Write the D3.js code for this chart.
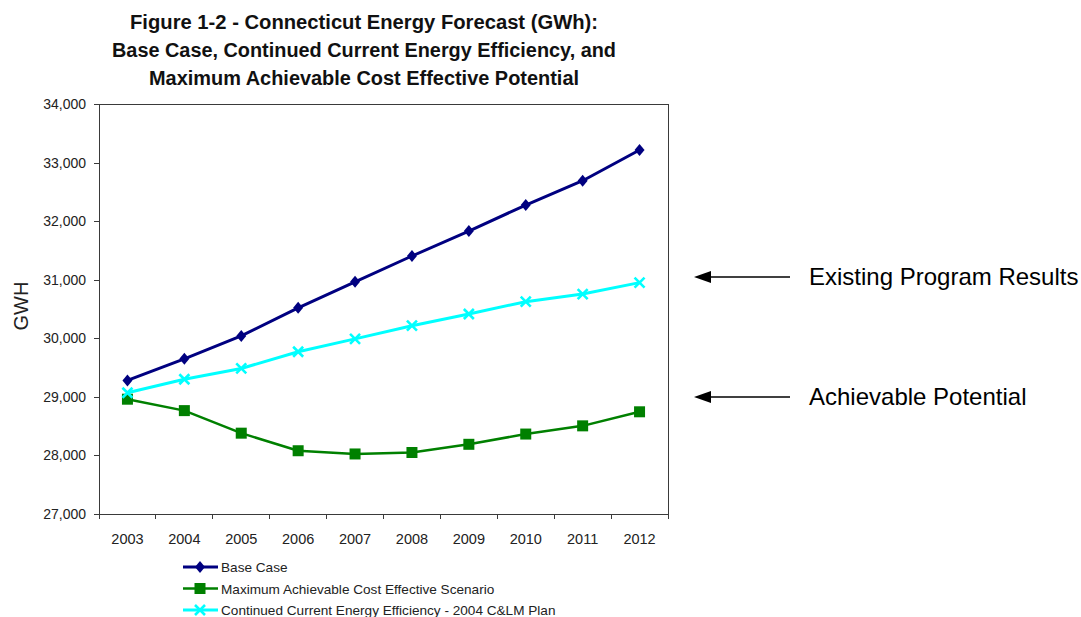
<!DOCTYPE html>
<html>
<head>
<meta charset="utf-8">
<script src="https://cdn.jsdelivr.net/npm/d3@7"></script>
<style>
  html, body { margin: 0; padding: 0; background: #fff; }
  svg { display: block; font-family: "Liberation Sans", Arial, sans-serif; }
</style>
</head>
<body>
<svg id="chart" width="1081" height="617"></svg>
<script>
// Forecast years and the three GWh series
const years = ["2003","2004","2005","2006","2007","2008","2009","2010","2011","2012"];
const baseCase  = [29280, 29650, 30040, 30520, 30965, 31405, 31830, 32275, 32690, 33215];
const maxAchiev = [28960, 28765, 28380, 28080, 28025, 28050, 28190, 28365, 28505, 28745];
const contCurr  = [29070, 29300, 29485, 29770, 29990, 30215, 30415, 30625, 30755, 30950];
const yTicks = [27000, 28000, 29000, 30000, 31000, 32000, 33000, 34000];

const titleLines = [
  "Figure 1-2 - Connecticut Energy Forecast (GWh):",
  "Base Case, Continued Current Energy Efficiency, and",
  "Maximum Achievable Cost Effective Potential"
];
const legendLabels = [
  "Base Case",
  "Maximum Achievable Cost Effective Scenario",
  "Continued Current Energy Efficiency - 2004 C&LM Plan"
];
const notes = ["Existing Program Results", "Achievable Potential"];

const svg = d3.select("#chart");
const plot = { left: 99, right: 668, top: 104, bottom: 514 };

const x = d3.scaleBand().domain(years).range([plot.left, plot.right]);
const y = d3.scaleLinear().domain([27000, 34000]).range([plot.bottom, plot.top]);
const cx = d => x(d) + x.bandwidth() / 2;

// Title (condensed bold, three centred lines)
const titleWidths = [468, 504, 430];
svg.append("g").selectAll("text").data(titleLines).join("text")
  .attr("x", 364)
  .attr("y", (d, i) => 29 + i * 28)
  .attr("text-anchor", "middle")
  .attr("font-family", "'Liberation Sans Narrow','Arial Narrow','Liberation Sans',Arial,sans-serif")
  .attr("font-weight", "bold")
  .attr("font-size", 19.5)
  .attr("fill", "#111")
  .attr("textLength", (d, i) => titleWidths[i])
  .attr("lengthAdjust", "spacingAndGlyphs")
  .text(d => d);

// Plot frame
const axisColor = "#3a3a3a";
svg.append("rect")
  .attr("x", plot.left).attr("y", plot.top)
  .attr("width", plot.right - plot.left).attr("height", plot.bottom - plot.top)
  .attr("fill", "none").attr("stroke", axisColor).attr("stroke-width", 1)
  .attr("shape-rendering", "crispEdges");

// Y axis
const yAxis = svg.append("g")
  .attr("transform", `translate(${plot.left},0)`)
  .call(d3.axisLeft(y).tickValues(yTicks).tickFormat(d3.format(",")).tickSize(5).tickPadding(8));
yAxis.select(".domain").attr("stroke", axisColor);
yAxis.selectAll(".tick line").attr("stroke", axisColor).attr("shape-rendering", "crispEdges");
yAxis.selectAll(".tick text")
  .attr("font-size", 14).attr("fill", "#222")
  .attr("font-family", "'Liberation Sans',Arial,sans-serif");

// X axis: labels centred in each band, ticks on band boundaries
const xAxis = svg.append("g")
  .attr("transform", `translate(0,${plot.bottom})`)
  .call(d3.axisBottom(x).tickSize(0).tickPadding(20));
xAxis.select(".domain").attr("stroke", axisColor);
xAxis.selectAll(".tick text")
  .attr("font-size", 14.5).attr("fill", "#222")
  .attr("font-family", "'Liberation Sans',Arial,sans-serif");
svg.append("g").selectAll("line")
  .data(years.map(d => x(d)).concat([plot.right]))
  .join("line")
  .attr("x1", d => d).attr("x2", d => d)
  .attr("y1", plot.bottom).attr("y2", plot.bottom + 5)
  .attr("stroke", axisColor).attr("shape-rendering", "crispEdges");

// Y axis title
svg.append("text")
  .attr("transform", "translate(28,306) rotate(-90)")
  .attr("text-anchor", "middle")
  .attr("font-size", 20).attr("fill", "#222")
  .text("GWH");

// Series
const series = [
  { values: baseCase,  color: "#000080", width: 3,   marker: "diamond" },
  { values: maxAchiev, color: "#008000", width: 2.5, marker: "square" },
  { values: contCurr,  color: "#00FFFF", width: 3,   marker: "x" }
];

function drawMarker(g, type, color) {
  if (type === "diamond") {
    g.append("path").attr("d", "M0,-6L5,0L0,6L-5,0Z").attr("fill", color);
  } else if (type === "square") {
    g.append("rect").attr("x", -5.5).attr("y", -5.5).attr("width", 11).attr("height", 11).attr("fill", color);
  } else {
    g.append("path").attr("d", "M-5,-5L5,5M-5,5L5,-5")
      .attr("stroke", color).attr("stroke-width", 2.6).attr("fill", "none");
  }
}

const line = d3.line().x((d, i) => cx(years[i])).y(d => y(d));
// draw green first, then cyan, then navy on top
[1, 2, 0].forEach(k => {
  const s = series[k];
  const g = svg.append("g");
  g.append("path").datum(s.values)
    .attr("d", line).attr("fill", "none")
    .attr("stroke", s.color).attr("stroke-width", s.width)
    .attr("stroke-linejoin", "round");
  s.values.forEach((v, i) => {
    const m = g.append("g").attr("transform", `translate(${cx(years[i])},${y(v)})`);
    drawMarker(m, s.marker, s.color);
  });
});

// Legend
const legend = svg.append("g");
legendLabels.forEach((label, i) => {
  const ly = 567 + i * 21.5;
  const s = series[i];
  legend.append("line")
    .attr("x1", 183).attr("x2", 218).attr("y1", ly).attr("y2", ly)
    .attr("stroke", s.color).attr("stroke-width", s.width);
  const m = legend.append("g").attr("transform", `translate(200,${ly})`);
  drawMarker(m, s.marker, s.color);
  legend.append("text")
    .attr("x", 221).attr("y", ly + 5)
    .attr("font-size", 13.6).attr("fill", "#222")
    .text(label);
});

// Right-hand annotations with left-pointing arrows
const noteY = [277, 397];
notes.forEach((t, i) => {
  const ay = noteY[i];
  svg.append("line")
    .attr("x1", 706).attr("x2", 790).attr("y1", ay).attr("y2", ay)
    .attr("stroke", "#000").attr("stroke-width", 1.6);
  svg.append("path")
    .attr("d", `M694,${ay}L711,${ay - 6}L711,${ay + 6}Z`)
    .attr("fill", "#000");
  svg.append("text")
    .attr("x", 809).attr("y", ay + 8)
    .attr("font-size", 24).attr("fill", "#000")
    .text(t);
});
</script>
</body>
</html>
